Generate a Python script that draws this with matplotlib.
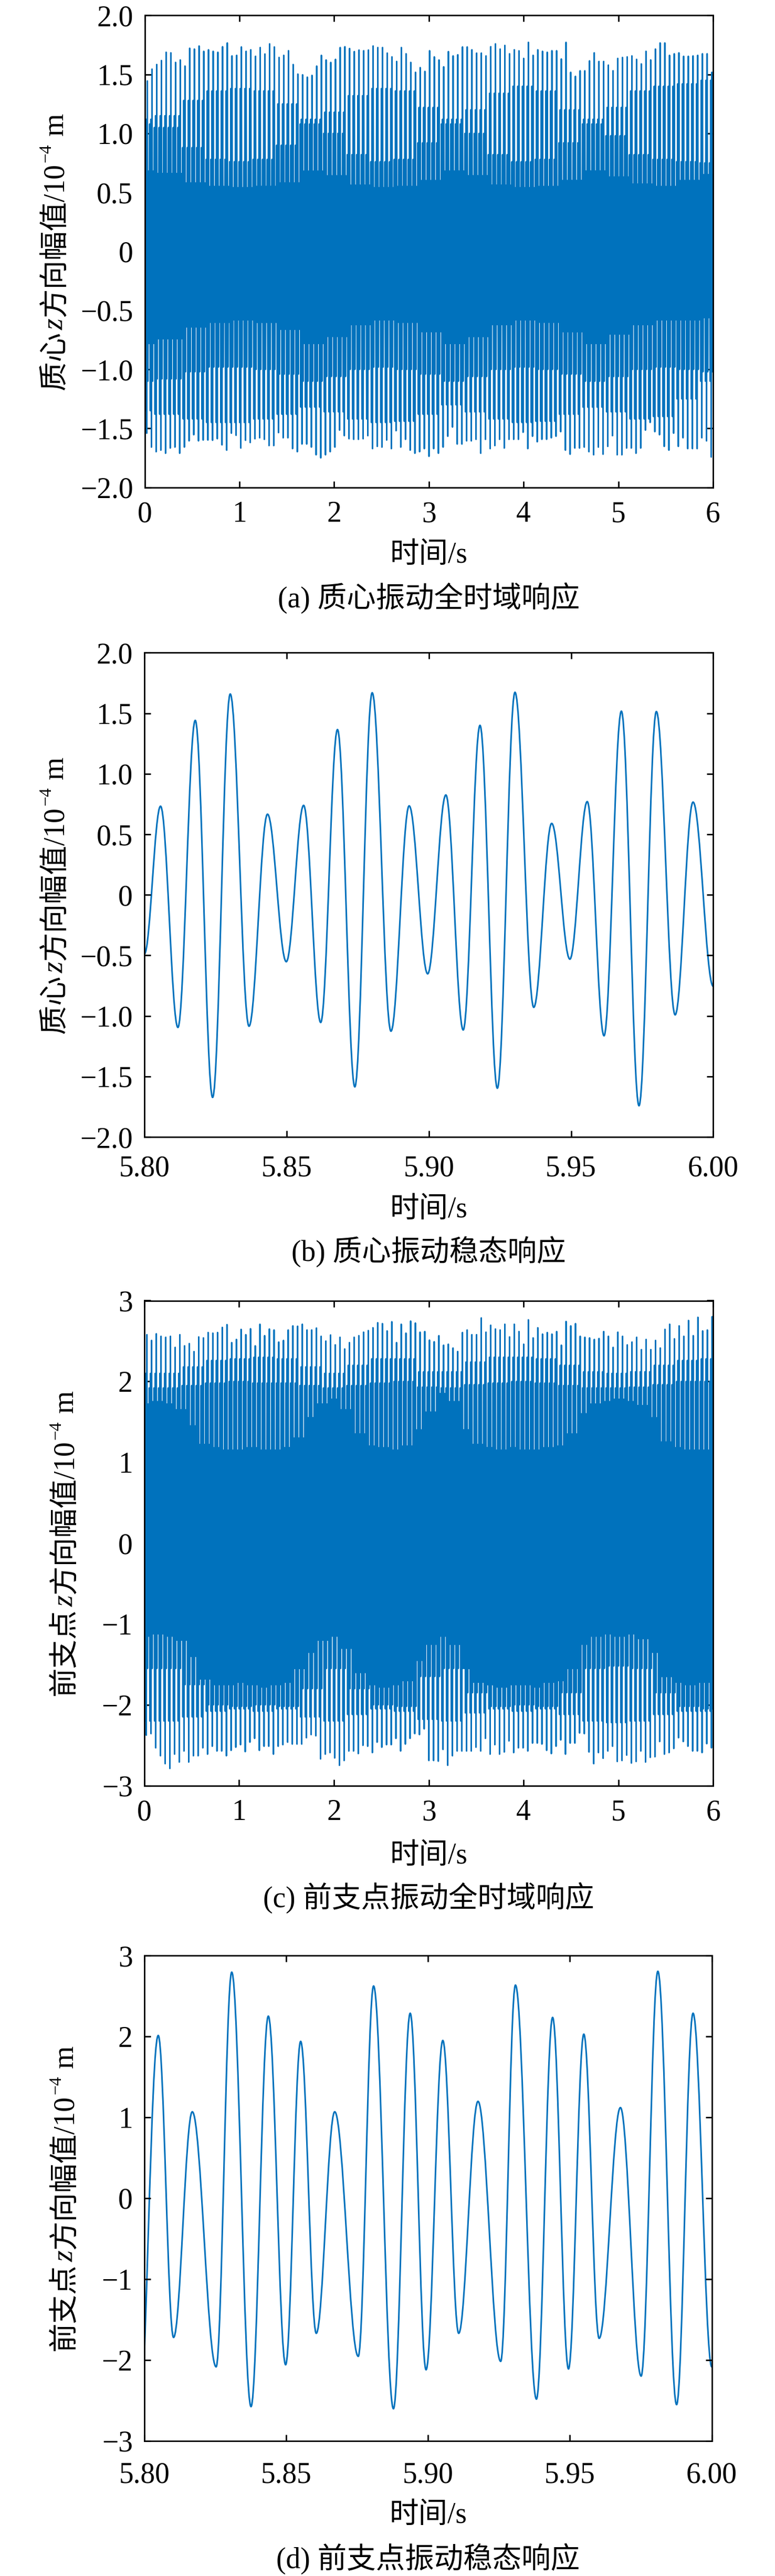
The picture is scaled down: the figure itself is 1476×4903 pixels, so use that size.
import numpy as np
import matplotlib
matplotlib.use('Agg')
import matplotlib.pyplot as plt
from matplotlib.path import Path
from matplotlib.patches import PathPatch
from matplotlib.transforms import IdentityTransform
from matplotlib.ticker import FuncFormatter

plt.rcParams['font.family'] = ['Liberation Serif', 'Noto Sans CJK SC']
plt.rcParams['axes.unicode_minus'] = True

# ======================= data =======================
# full-time panels: one tall spike per beat (beat period ~0.0497 s)
beat_t0 = 0.027
beat_period = 0.04967

# (a) centre of mass, tips of tall upper / lower spikes (one per beat)
a_top_tips = [
    1.445, 1.545, 1.584, 1.618, 1.688, 1.683, 1.602, 1.623, 1.571, 1.722,
    1.715, 1.741, 1.696, 1.709, 1.696, 1.688, 1.735, 1.767, 1.657, 1.662,
    1.733, 1.696, 1.709, 1.654, 1.728, 1.673, 1.759, 1.733, 1.644, 1.662,
    1.701, 1.584, 1.503, 1.497, 1.477, 1.492, 1.571, 1.662, 1.623, 1.602,
    1.628, 1.728, 1.735, 1.720, 1.694, 1.707, 1.701, 1.707, 1.741, 1.728,
    1.728, 1.681, 1.649, 1.610, 1.728, 1.675, 1.602, 1.518, 1.558, 1.526,
    1.701,
    1.649, 1.623, 1.565, 1.694, 1.657, 1.667, 1.733, 1.733, 1.709, 1.681,
    1.681, 1.657, 1.735, 1.759, 1.715, 1.746, 1.675, 1.709, 1.700, 1.636,
    1.772, 1.662, 1.709, 1.696, 1.688, 1.701, 1.701, 1.631, 1.772, 1.518,
    1.484, 1.531, 1.531, 1.615, 1.683, 1.610, 1.610, 1.579, 1.531, 1.636,
    1.644, 1.649, 1.657, 1.628, 1.589, 1.696, 1.623, 1.715, 1.767, 1.767,
    1.662, 1.675, 1.683, 1.654, 1.654, 1.657, 1.662, 1.675, 1.675, 1.518]
a_bot_tips = [
    -1.541, -1.659, -1.698, -1.685, -1.711, -1.667, -1.659, -1.711, -1.659, -1.606,
    -1.554, -1.606, -1.599, -1.599, -1.601, -1.588, -1.640, -1.685, -1.541, -1.559,
    -1.667, -1.601, -1.620, -1.588, -1.580, -1.593, -1.646, -1.646, -1.536, -1.580,
    -1.580, -1.672, -1.698, -1.633, -1.633, -1.659, -1.724, -1.750, -1.724, -1.698,
    -1.659, -1.515, -1.562, -1.588, -1.593, -1.593, -1.588, -1.562, -1.672, -1.653,
    -1.659, -1.599, -1.672, -1.520, -1.659, -1.593, -1.685, -1.711, -1.698, -1.672,
    -1.737,
    -1.672, -1.711, -1.659, -1.567, -1.489, -1.633, -1.633, -1.606, -1.606, -1.593,
    -1.711, -1.593, -1.672, -1.646, -1.593, -1.667, -1.593, -1.593, -1.593, -1.533,
    -1.672, -1.567, -1.614, -1.593, -1.593, -1.580, -1.567, -1.528, -1.685, -1.719,
    -1.667, -1.667, -1.659, -1.698, -1.724, -1.659, -1.719, -1.653, -1.562, -1.724,
    -1.724, -1.667, -1.667, -1.711, -1.667, -1.515, -1.450, -1.528, -1.554, -1.653,
    -1.685, -1.541, -1.653, -1.580, -1.672, -1.672, -1.672, -1.580, -1.606, -1.743]
# (a) levels of the other cycles inside each beat, read every 0.25 s (0 ... 6 s)
a_second_top = [1.12, 1.15, 1.28, 1.36, 1.38, 1.36, 1.25, 1.12, 1.18, 1.32, 1.38, 1.36, 1.22,
                1.12, 1.20, 1.34, 1.40, 1.36, 1.20, 1.12, 1.22, 1.36, 1.40, 1.42, 1.45]
a_mid_top = [1.08, 1.05, 0.88, 0.78, 0.76, 0.78, 0.90, 1.08, 1.00, 0.82, 0.76, 0.78, 0.92,
             1.08, 1.00, 0.82, 0.76, 0.78, 0.92, 1.08, 0.98, 0.82, 0.78, 0.76, 0.75]
a_core_top = [0.68, 0.66, 0.58, 0.55, 0.54, 0.55, 0.58, 0.68, 0.64, 0.56, 0.54, 0.55, 0.60,
              0.68, 0.64, 0.56, 0.54, 0.55, 0.60, 0.68, 0.63, 0.57, 0.55, 0.60, 0.65]
a_second_bot = [-1.35, -1.38, -1.42, -1.45, -1.45, -1.42, -1.38, -1.32, -1.36, -1.42, -1.45, -1.44, -1.38,
                -1.30, -1.36, -1.42, -1.45, -1.44, -1.38, -1.32, -1.36, -1.42, -1.40, -1.25, -1.10]
a_mid_bot = [-1.10, -1.08, -1.02, -0.98, -0.98, -1.00, -1.04, -1.10, -1.06, -1.00, -0.98, -1.00, -1.04,
             -1.10, -1.06, -1.00, -0.98, -1.00, -1.04, -1.10, -1.06, -1.00, -0.98, -1.00, -1.02]
a_core_bot = [-0.78, -0.74, -0.64, -0.60, -0.58, -0.60, -0.66, -0.78, -0.72, -0.62, -0.58, -0.60, -0.68,
              -0.78, -0.72, -0.62, -0.58, -0.60, -0.68, -0.78, -0.70, -0.62, -0.58, -0.58, -0.56]

# (c) front support point, tips of tall upper / lower spikes (one per beat)
c_top_tips = [
    2.579, 2.508, 2.590, 2.559, 2.547, 2.559, 2.422, 2.579, 2.441, 2.469,
    2.370, 2.551, 2.539, 2.606, 2.598, 2.606, 2.669, 2.704, 2.481, 2.520,
    2.645, 2.579, 2.653, 2.441, 2.708, 2.567, 2.649, 2.637, 2.488, 2.508,
    2.637, 2.688, 2.684, 2.708, 2.637, 2.637, 2.661, 2.559, 2.500, 2.575,
    2.453, 2.547, 2.402, 2.481, 2.547, 2.567, 2.610, 2.630, 2.665, 2.727,
    2.716, 2.626, 2.739, 2.481, 2.708, 2.598, 2.747, 2.723, 2.610, 2.618,
    2.512,
    2.492, 2.567, 2.449, 2.461, 2.414, 2.371, 2.606, 2.637, 2.579, 2.579,
    2.786, 2.610, 2.696, 2.649, 2.637, 2.708, 2.551, 2.708, 2.618, 2.461,
    2.763, 2.539, 2.665, 2.586, 2.606, 2.586, 2.618, 2.449, 2.743, 2.688,
    2.716, 2.559, 2.547, 2.539, 2.520, 2.532, 2.618, 2.559, 2.422, 2.610,
    2.559, 2.453, 2.488, 2.547, 2.394, 2.520, 2.394, 2.508, 2.414, 2.645,
    2.708, 2.528, 2.688, 2.559, 2.755, 2.567, 2.794, 2.626, 2.637, 2.802]
c_bot_tips = [
    -2.376, -2.357, -2.533, -2.631, -2.729, -2.788, -2.611, -2.709, -2.572, -2.709,
    -2.631, -2.631, -2.533, -2.611, -2.513, -2.572, -2.572, -2.631, -2.564, -2.525,
    -2.494, -2.580, -2.463, -2.416, -2.564, -2.513, -2.513, -2.611, -2.513, -2.494,
    -2.463, -2.486, -2.486, -2.486, -2.408, -2.369, -2.384, -2.670, -2.611, -2.592,
    -2.658, -2.749, -2.690, -2.572, -2.572, -2.604, -2.502, -2.513, -2.592, -2.463,
    -2.525, -2.494, -2.494, -2.416, -2.572, -2.486, -2.416, -2.357, -2.369, -2.298,
    -2.690,
    -2.690, -2.698, -2.553, -2.749, -2.631, -2.572, -2.572, -2.572, -2.572, -2.525,
    -2.572, -2.416, -2.611, -2.494, -2.611, -2.584, -2.447, -2.592, -2.533, -2.533,
    -2.572, -2.474, -2.474, -2.486, -2.564, -2.604, -2.513, -2.435, -2.611, -2.474,
    -2.474, -2.349, -2.357, -2.584, -2.729, -2.592, -2.662, -2.572, -2.513, -2.702,
    -2.690, -2.623, -2.721, -2.702, -2.572, -2.709, -2.651, -2.643, -2.455, -2.611,
    -2.592, -2.541, -2.408, -2.455, -2.513, -2.572, -2.572, -2.592, -2.482, -2.533]
# (c) levels of the other cycles, read every 0.25 s
c_second_top = [2.10, 2.10, 2.18, 2.26, 2.28, 2.30, 2.28, 2.18, 2.10, 2.20, 2.28, 2.28, 2.12,
                2.12, 2.24, 2.30, 2.30, 2.28, 2.20, 2.12, 2.10, 2.12, 2.20, 2.26, 2.28]
c_mid_top = [1.92, 1.92, 1.95, 1.98, 2.00, 1.98, 1.98, 1.95, 1.92, 1.95, 1.98, 2.00, 1.93,
             1.92, 1.96, 1.98, 2.00, 1.98, 1.95, 1.92, 1.92, 1.93, 1.96, 2.00, 2.00]
c_second_bot = [-2.20, -2.20, -2.15, -2.08, -2.05, -2.08, -2.05, -2.15, -2.20, -2.12, -2.05, -2.08, -2.18,
                -2.20, -2.10, -2.05, -2.08, -2.05, -2.12, -2.20, -2.22, -2.20, -2.12, -2.08, -2.08]
c_mid_bot = [-1.55, -1.55, -1.75, -2.00, -2.02, -2.00, -2.02, -1.80, -1.55, -1.80, -2.00, -2.02, -1.65,
             -1.55, -1.85, -2.02, -2.00, -2.02, -1.85, -1.55, -1.52, -1.55, -1.85, -2.02, -2.05]
# (c) edges of the solid core, read every 0.125 s
c_core_top = [1.72, 1.75, 1.72, 1.65, 1.45, 1.22, 1.18, 1.15, 1.15, 1.18, 1.15, 1.15, 1.18,
              1.30, 1.55, 1.72, 1.78, 1.65, 1.35, 1.20, 1.18, 1.15, 1.20, 1.40, 1.62, 1.85,
              1.75, 1.40, 1.22, 1.18, 1.15, 1.18, 1.15, 1.15, 1.18, 1.20, 1.35, 1.60, 1.72,
              1.75, 1.78, 1.75, 1.70, 1.55, 1.25, 1.18, 1.15, 1.15, 1.15]
c_core_bot = [-1.15, -1.12, -1.15, -1.20, -1.40, -1.68, -1.75, -1.75, -1.72, -1.75, -1.78, -1.75, -1.72,
              -1.55, -1.35, -1.20, -1.15, -1.30, -1.60, -1.75, -1.78, -1.75, -1.70, -1.45, -1.25, -1.15,
              -1.25, -1.55, -1.72, -1.75, -1.78, -1.75, -1.75, -1.78, -1.72, -1.70, -1.55, -1.25, -1.15,
              -1.12, -1.15, -1.12, -1.18, -1.35, -1.65, -1.72, -1.75, -1.72, -1.72]

# (b) steady state of centre of mass: successive extrema (time s, value)
b_t = [5.8000, 5.8057, 5.8118, 5.8179, 5.8240, 5.8302, 5.8368, 5.8433, 5.8499, 5.8560, 5.8620,
       5.8679, 5.8740, 5.8801, 5.8867, 5.8931, 5.8996, 5.9060, 5.9121, 5.9180, 5.9241, 5.9303,
       5.9369, 5.9432, 5.9496, 5.9557, 5.9616, 5.9677, 5.9739, 5.9800, 5.9866, 5.9929, 6.0000]
b_v = [-0.49, 0.732, -1.095, 1.441, -1.673, 1.659, -1.085, 0.666, -0.552, 0.739, -1.054,
       1.365, -1.586, 1.669, -1.126, 0.735, -0.652, 0.825, -1.116, 1.400, -1.597, 1.673,
       -0.929, 0.590, -0.531, 0.770, -1.164, 1.517, -1.742, 1.514, -0.991, 0.766, -0.756]

# (d) steady state of front support point: successive extrema
d_t = [5.8000, 5.8049, 5.8103, 5.8169, 5.8253, 5.8308, 5.8376, 5.8437, 5.8498, 5.8551, 5.8606,
       5.8671, 5.8754, 5.8808, 5.8878, 5.8937, 5.8993, 5.9052, 5.9108, 5.9176, 5.9256, 5.9308,
       5.9382, 5.9439, 5.9495, 5.9549, 5.9603, 5.9678, 5.9751, 5.9810, 5.9876, 5.9934, 6.0000]
d_v = [-1.94, 2.013, -1.722, 1.069, -2.086, 2.796, -2.578, 2.252, -2.060, 1.940, -1.671,
       1.069, -1.956, 2.625, -2.604, 2.288, -2.122, 1.951, -1.671, 1.198, -2.018, 2.636,
       -2.485, 2.236, -2.112, 2.029, -1.733, 1.121, -2.200, 2.807, -2.553, 2.288, -2.086]

xlabel_text = '时间/s'
captions = ['(a) 质心振动全时域响应', '(b) 质心振动稳态响应',
            '(c) 前支点振动全时域响应', '(d) 前支点振动稳态响应']
ylabel_heads = ['质心', '质心', '前支点', '前支点']

# ======================= helpers =======================
W, H, DPI = 1476, 4903, 100
COLOR = '#0072BD'
FS = 40


def level(arr, t):
    n = len(arr)
    i = int(round(min(max(t, 0.0), 6.0) / 6.0 * (n - 1)))
    return arr[i]


def beat_series(top, bot, u2, mt, ct, l2, mb, cb):
    ts, vs = [], []
    for k in range(len(top)):
        tc = beat_t0 + k * beat_period
        tb = tc - beat_period / 2
        seq = [level(mt, tc), level(l2, tc), level(u2, tc), bot[k], top[k],
               level(mb, tc), level(ct, tc), level(cb, tc)]
        for j, v in enumerate(seq):
            ts.append(tb + j * beat_period / 8)
            vs.append(v)
    return np.array(ts), np.array(vs)


def extrema_path(ts, vs, free_start=False, k=0.3642):
    verts = [(ts[0], vs[0])]
    codes = [Path.MOVETO]
    for i in range(len(ts) - 1):
        t0, v0, t1, v1 = ts[i], vs[i], ts[i + 1], vs[i + 1]
        dt = t1 - t0
        if i == 0 and free_start:
            c1 = (t0 + dt * k, v0 + (v1 - v0) * 0.45)
        else:
            c1 = (t0 + dt * k, v0)
        c2 = (t1 - dt * k, v1)
        verts += [c1, c2, (t1, v1)]
        codes += [Path.CURVE4] * 3
    return Path(verts, codes)


def fmt_one_decimal(v, p):
    if abs(v) < 1e-9:
        return '0'
    return f'{v:.1f}'.replace('-', '\u2212')


def fmt_int(v, p):
    return f'{int(round(v))}'.replace('-', '\u2212')


def fmt_two_decimal(v, p):
    return f'{v:.2f}'


def style_axes(ax, xlim, ylim, xticks, yticks, xfmt, yfmt, xpad, ypad):
    ax.set_xlim(*xlim)
    ax.set_ylim(*ylim)
    ax.set_xticks(xticks)
    ax.set_yticks(yticks)
    ax.xaxis.set_major_formatter(FuncFormatter(xfmt))
    ax.yaxis.set_major_formatter(FuncFormatter(yfmt))
    ax.minorticks_off()
    ax.tick_params(direction='in', top=True, right=True, length=8.6, width=2.0,
                   labelsize=FS, colors='black')
    ax.tick_params(axis='x', pad=xpad)
    ax.tick_params(axis='y', pad=ypad)
    for s in ax.spines.values():
        s.set_linewidth(2.0)
        s.set_color('black')


def rotated_label(fig, ax, x_base, parts):
    renderer = fig.canvas.get_renderer()
    px = FS * fig.dpi / 72.0
    bb = ax.get_position()
    yc = (bb.y0 + bb.y1) / 2 * H
    items, total = [], 0.0
    for text, kw, scale, rise, gap in parts:
        t = fig.text(0, 0, text, rotation=90, rotation_mode='anchor', ha='left',
                     va='baseline', fontsize=FS * scale, transform=IdentityTransform(), **kw)
        length = t.get_window_extent(renderer).height
        total += gap * px
        items.append((t, total, rise))
        total += length
    y0 = yc - total / 2
    for t, off, rise in items:
        t.set_position((x_base - rise * px, y0 + off))


def ylabel_parts(head):
    return [(head, {}, 1.0, 0.0, 0.0),
            ('z', {'style': 'italic'}, 1.0, 0.0, 0.06),
            ('方向幅值/10', {}, 1.0, 0.0, 0.05),
            ('\u22124', {}, 0.6, 0.42, 0.03),
            ('m', {}, 1.0, 0.0, 0.27)]


# ======================= figure =======================
fig = plt.figure(figsize=(W / DPI, H / DPI), dpi=DPI)

# axes boxes in pixels: left, right, top, bottom (from top of image)
boxes = [(275.7, 1358.0, 29.3, 927.7),
         (274.9, 1358.4, 1242.4, 2164.0),
         (274.9, 1358.4, 2475.5, 3398.7),
         (274.9, 1355.6, 3722.4, 4645.5)]
xlabel_base = [1071, 2317, 3547, 4802]
caption_base = [1156, 2400, 3630, 4888]
ylabel_x = [119.5, 119.5, 138.5, 138.5]
xpads = [18.5, 24.5, 18.5, 29.0]
ypad = 16.0

axes = []
for (l, r, t, b) in boxes:
    axes.append(fig.add_axes([l / W, 1 - b / H, (r - l) / W, (b - t) / H]))

# (a)
ta, va = beat_series(a_top_tips, a_bot_tips, a_second_top, a_mid_top, a_core_top,
                     a_second_bot, a_mid_bot, a_core_bot)
axes[0].plot(ta, va, color=COLOR, lw=2.0)
style_axes(axes[0], (0, 6), (-2, 2), np.arange(0, 7, 1), np.arange(-2, 2.01, 0.5),
           fmt_int, fmt_one_decimal, xpads[0], ypad)

# (b)
axes[1].add_patch(PathPatch(extrema_path(b_t, b_v), facecolor='none', edgecolor=COLOR,
                            lw=2.2, transform=axes[1].transData))
style_axes(axes[1], (5.8, 6.0), (-2, 2), np.linspace(5.8, 6.0, 5), np.arange(-2, 2.01, 0.5),
           fmt_two_decimal, fmt_one_decimal, xpads[1], ypad)

# (c)
tc_, vc_ = beat_series(c_top_tips, c_bot_tips, c_second_top, c_mid_top, c_core_top,
                       c_second_bot, c_mid_bot, c_core_bot)
axes[2].plot(tc_, vc_, color=COLOR, lw=2.0)
style_axes(axes[2], (0, 6), (-3, 3), np.arange(0, 7, 1), np.arange(-3, 4, 1),
           fmt_int, fmt_int, xpads[2], ypad)

# (d)
axes[3].add_patch(PathPatch(extrema_path(d_t, d_v, free_start=True), facecolor='none',
                            edgecolor=COLOR, lw=2.2, transform=axes[3].transData))
style_axes(axes[3], (5.8, 6.0), (-3, 3), np.linspace(5.8, 6.0, 5), np.arange(-3, 4, 1),
           fmt_two_decimal, fmt_int, xpads[3], ypad)

for i, ax in enumerate(axes):
    l, r, t, b = boxes[i]
    xc = (l + r) / 2
    fig.text(xc, H - xlabel_base[i], xlabel_text, ha='center', va='baseline',
             fontsize=FS, transform=IdentityTransform())
    fig.text(xc, H - caption_base[i], captions[i], ha='center', va='baseline',
             fontsize=FS, transform=IdentityTransform())
    rotated_label(fig, ax, ylabel_x[i], ylabel_parts(ylabel_heads[i]))

fig.savefig('out.png', dpi=DPI)
